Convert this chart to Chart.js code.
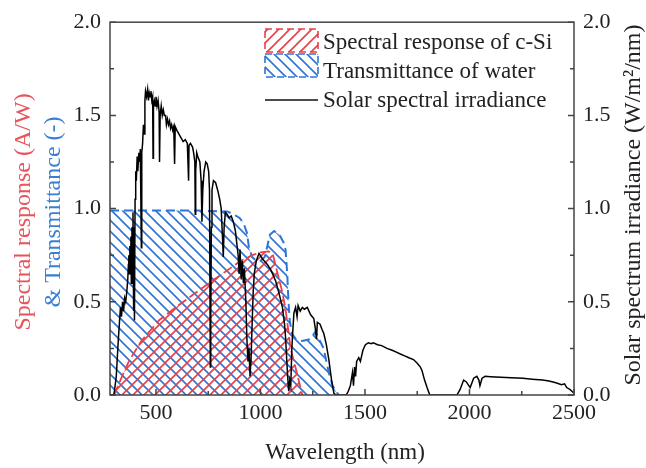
<!DOCTYPE html>
<html>
<head>
<meta charset="utf-8">
<script src="https://cdn.jsdelivr.net/npm/chart.js@4.4.1/dist/chart.umd.min.js"></script>
<style>
  html, body { margin: 0; padding: 0; background: #fff; }
  #wrap { width: 646px; height: 468px; position: relative; }
</style>
</head>
<body>
<div id="wrap"><canvas id="chart"></canvas></div>
<script>
// solar spectral irradiance (W/m2/nm)
const solarWl = [280, 295, 300, 310, 320, 330, 335, 340, 345, 350, 355, 360, 365, 368, 370, 372, 375, 378, 380, 382,
  385, 388, 390, 393, 395, 397, 400, 403, 406, 410, 413, 418, 422, 425, 430, 432, 436, 440, 443, 447,
  450, 455, 460, 464, 468, 472, 476, 480, 484, 486, 488, 492, 496, 500, 505, 510, 515, 517, 520, 525,
  530, 535, 540, 546, 550, 555, 560, 565, 570, 575, 580, 585, 589, 592, 600, 610, 620, 630, 640, 650,
  656, 658, 665, 675, 680, 686, 688, 690, 695, 700, 710, 716, 720, 724, 730, 738, 745, 752, 756, 760,
  762, 765, 768, 775, 785, 795, 805, 812, 818, 822, 826, 832, 840, 850, 860, 870, 880, 888, 893, 898,
  902, 908, 913, 918, 923, 930, 935, 940, 945, 950, 955, 960, 965, 970, 980, 993, 1010, 1033, 1050, 1073,
  1090, 1105, 1115, 1120, 1125, 1130, 1135, 1140, 1145, 1150, 1155, 1160, 1168, 1175, 1180, 1190, 1200, 1210, 1224, 1240,
  1255, 1262, 1268, 1272, 1285, 1295, 1303, 1315, 1327, 1340, 1351, 1360, 1410, 1420, 1430, 1440, 1445, 1450, 1455, 1460,
  1470, 1478, 1490, 1502, 1516, 1530, 1540, 1560, 1580, 1605, 1630, 1650, 1669, 1690, 1710, 1732, 1750, 1765, 1773, 1785,
  1797, 1810, 1940, 1955, 1972, 1985, 2003, 2020, 2035, 2045, 2050, 2060, 2075, 2100, 2150, 2200, 2256, 2300, 2350, 2380,
  2400, 2417, 2440, 2455, 2465, 2480, 2490, 2500];
const solarIrr = [0, 0, 0.01, 0.1, 0.3, 0.47, 0.42, 0.5, 0.45, 0.52, 0.5, 0.55, 0.62, 0.7, 0.75, 0.65, 0.8, 0.7, 0.85, 0.6,
  0.9, 0.75, 0.98, 0.45, 0.9, 0.4, 1.05, 1.2, 1.15, 1.28, 1.2, 1.3, 1.25, 1.32, 0.79, 1.3, 1.35, 1.45, 1.4, 1.58,
  1.63, 1.6, 1.64, 1.58, 1.62, 1.6, 1.63, 1.58, 1.6, 1.27, 1.56, 1.58, 1.55, 1.6, 1.55, 1.58, 1.52, 1.25, 1.5, 1.55,
  1.5, 1.53, 1.5, 1.5, 1.45, 1.48, 1.45, 1.47, 1.43, 1.45, 1.42, 1.44, 1.24, 1.44, 1.42, 1.4, 1.38, 1.36, 1.37, 1.35,
  1.15, 1.34, 1.35, 1.33, 1.3, 1.25, 0.97, 1.2, 1.3, 1.28, 1.25, 1.15, 0.93, 1.1, 1.2, 1.25, 1.24, 1.2, 1.1, 0.15,
  0.4, 0.9, 1.1, 1.15, 1.14, 1.1, 1.05, 1.0, 0.85, 0.74, 0.9, 0.98, 0.97, 0.95, 0.96, 0.93, 0.88, 0.8, 0.75, 0.65,
  0.78, 0.62, 0.72, 0.6, 0.68, 0.5, 0.3, 0.18, 0.25, 0.1, 0.2, 0.38, 0.55, 0.65, 0.72, 0.76, 0.73, 0.7, 0.67, 0.61,
  0.54, 0.47, 0.38, 0.31, 0.2, 0.1, 0.02, 0.08, 0.05, 0.25, 0.35, 0.44, 0.47, 0.42, 0.48, 0.45, 0.47, 0.46, 0.47, 0.43,
  0.41, 0.36, 0.3, 0.39, 0.38, 0.35, 0.33, 0.27, 0.19, 0.08, 0.01, 0, 0, 0.02, 0.05, 0.12, 0.05, 0.15, 0.1, 0.18,
  0.2, 0.18, 0.24, 0.27, 0.28, 0.275, 0.28, 0.27, 0.265, 0.25, 0.24, 0.23, 0.22, 0.21, 0.2, 0.19, 0.17, 0.15, 0.13, 0.08,
  0.04, 0, 0, 0.03, 0.08, 0.07, 0.04, 0.09, 0.1, 0.08, 0.05, 0.09, 0.1, 0.098, 0.095, 0.093, 0.09, 0.085, 0.08, 0.075,
  0.07, 0.064, 0.055, 0.06, 0.04, 0.03, 0.02, 0.01];

// spectral response of c-Si (A/W)
const respWl = [300, 330, 370, 430, 514, 594, 680, 753, 830, 906, 960, 1000, 1040, 1060, 1080, 1105, 1120, 1144, 1176, 1200];
const respVal = [0, 0.08, 0.18, 0.29, 0.40, 0.47, 0.54, 0.60, 0.66, 0.72, 0.75, 0.765, 0.77, 0.75, 0.66, 0.55, 0.46, 0.25, 0.11, 0];

// transmittance of water (-)
const waterWl = [280, 300, 400, 500, 600, 700, 800, 840, 870, 900, 920, 935, 945, 960, 980, 1000, 1020, 1033, 1045, 1065,
  1090, 1110, 1120, 1128, 1134, 1140, 1150, 1170, 1200, 1240, 1263, 1280, 1302, 1327, 1345, 1360, 1375];
const waterVal = [0.99, 0.99, 0.99, 0.99, 0.99, 0.99, 0.985, 0.985, 0.97, 0.95, 0.92, 0.87, 0.79, 0.74, 0.72, 0.72, 0.74, 0.80, 0.86, 0.88,
  0.86, 0.82, 0.78, 0.65, 0.50, 0.40, 0.33, 0.30, 0.29, 0.30, 0.34, 0.30, 0.25, 0.12, 0.05, 0.02, 0];

const xMajor = [500, 1000, 1500, 2000, 2500];
const xMinor = [750, 1250, 1750, 2250];
const yMajor = [0, 0.5, 1.0, 1.5, 2.0];
const yMinor = [0.25, 0.75, 1.25, 1.75];

const RED = '#e6414b';
const BLUE = '#2f74d4';
const SERIF = '"Liberation Serif", "Times New Roman", serif';

const pts = (xs, ys) => xs.map((x, i) => ({ x: x, y: ys[i] }));

function hatch(color, dir) {
  const s = 11;
  const c = document.createElement('canvas');
  c.width = s; c.height = s;
  const g = c.getContext('2d');
  g.strokeStyle = color;
  g.lineWidth = 1.6;
  g.beginPath();
  if (dir > 0) {
    g.moveTo(-1, s + 1); g.lineTo(s + 1, -1);
    g.moveTo(-1, 1); g.lineTo(1, -1);
    g.moveTo(s - 1, s + 1); g.lineTo(s + 1, s - 1);
  } else {
    g.moveTo(-1, -1); g.lineTo(s + 1, s + 1);
    g.moveTo(s - 1, -1); g.lineTo(s + 1, 1);
    g.moveTo(-1, s - 1); g.lineTo(1, s + 1);
  }
  g.stroke();
  return g.createPattern(c, 'repeat');
}

const redHatch = hatch(RED, 1);
const blueHatch = hatch(BLUE, -1);

// frame, inward ticks, axis titles and legend
const decor = {
  id: 'decor',
  afterDraw(chart) {
    const ctx = chart.ctx;
    const a = chart.chartArea;
    const xs = chart.scales.x, yl = chart.scales.y, yr = chart.scales.y2;
    ctx.save();
    ctx.strokeStyle = '#444';
    ctx.lineWidth = 1.5;
    ctx.strokeRect(a.left, a.top, a.right - a.left, a.bottom - a.top);

    ctx.beginPath();
    const tick = (v, len) => {
      const py = yl.getPixelForValue(v);
      ctx.moveTo(a.left, py); ctx.lineTo(a.left + len, py);
      const pr = yr.getPixelForValue(v);
      ctx.moveTo(a.right, pr); ctx.lineTo(a.right - len, pr);
    };
    yMajor.forEach(v => tick(v, 6));
    yMinor.forEach(v => tick(v, 4));
    const xt = (v, len) => {
      const px = xs.getPixelForValue(v);
      ctx.moveTo(px, a.bottom); ctx.lineTo(px, a.bottom - len);
    };
    xMajor.forEach(v => xt(v, 6));
    xMinor.forEach(v => xt(v, 4));
    ctx.stroke();

    // axis titles
    ctx.textAlign = 'center';
    ctx.textBaseline = 'middle';
    ctx.font = '24px ' + SERIF;
    ctx.save();
    ctx.translate(24, 212);
    ctx.rotate(-Math.PI / 2);
    ctx.fillStyle = '#e9545c';
    ctx.fillText('Spectral response (A/W)', 0, 0);
    ctx.restore();
    ctx.save();
    ctx.translate(54, 212);
    ctx.rotate(-Math.PI / 2);
    ctx.fillStyle = '#3a7fd4';
    ctx.fillText('& Transmittance (-)', 0, 0);
    ctx.restore();
    ctx.save();
    ctx.translate(634, 205);
    ctx.rotate(-Math.PI / 2);
    ctx.fillStyle = '#222';
    ctx.fillText('Solar spectrum irradiance (W/m\u00b2/nm)', 0, 0);
    ctx.restore();
    ctx.fillStyle = '#222';
    ctx.font = '23px ' + SERIF;
    ctx.fillText('Wavelength (nm)', 345, 453);

    // legend
    const bx = 265, bw = 53;
    ctx.lineWidth = 1.6;
    ctx.setLineDash([7, 4]);
    ctx.fillStyle = redHatch;
    ctx.fillRect(bx, 29, bw, 23);
    ctx.strokeStyle = RED;
    ctx.strokeRect(bx, 29, bw, 23);
    ctx.fillStyle = blueHatch;
    ctx.fillRect(bx, 54, bw, 23);
    ctx.strokeStyle = BLUE;
    ctx.strokeRect(bx, 54, bw, 23);
    ctx.setLineDash([]);
    ctx.strokeStyle = '#111';
    ctx.beginPath();
    ctx.moveTo(bx, 100); ctx.lineTo(bx + bw, 100);
    ctx.stroke();
    ctx.fillStyle = '#222';
    ctx.textAlign = 'left';
    ctx.textBaseline = 'alphabetic';
    ctx.font = '23px ' + SERIF;
    ctx.fillText('Spectral response of c-Si', 323, 49);
    ctx.fillText('Transmittance of water', 323, 78);
    ctx.fillText('Solar spectral irradiance', 323, 107);
    ctx.restore();
  }
};

const yTicks = {
  min: 0, max: 2,
  ticks: { stepSize: 0.5, padding: 9, color: '#222', font: { family: SERIF, size: 22 }, callback: v => v.toFixed(1) },
  grid: { display: false, drawTicks: false },
  border: { display: false }
};

new Chart(document.getElementById('chart'), {
  type: 'line',
  data: {
    datasets: [
      {
        label: 'Solar spectral irradiance',
        data: pts(solarWl, solarIrr),
        yAxisID: 'y2',
        borderColor: '#000',
        borderWidth: 1.5,
        pointRadius: 0,
        fill: false
      },
      {
        label: 'Spectral response of c-Si',
        data: pts(respWl, respVal),
        yAxisID: 'y',
        borderColor: RED,
        borderWidth: 1.8,
        borderDash: [10, 4],
        backgroundColor: redHatch,
        pointRadius: 0,
        fill: 'origin'
      },
      {
        label: 'Transmittance of water',
        data: pts(waterWl, waterVal),
        yAxisID: 'y',
        borderColor: BLUE,
        borderWidth: 2,
        borderDash: [9, 5],
        backgroundColor: blueHatch,
        pointRadius: 0,
        fill: 'origin'
      }
    ]
  },
  options: {
    responsive: true,
    maintainAspectRatio: false,
    animation: false,
    layout: { padding: { top: 20, left: 0, right: 0, bottom: 0 } },
    plugins: { legend: { display: false }, tooltip: { enabled: false } },
    scales: {
      x: {
        type: 'linear',
        min: 280, max: 2500,
        afterBuildTicks: s => { s.ticks = xMajor.map(v => ({ value: v })); },
        afterFit: s => { s.height = 73; },
        ticks: { autoSkip: false, maxRotation: 0, padding: 5, color: '#222', font: { family: SERIF, size: 22 }, callback: v => String(v) },
        grid: { display: false, drawTicks: false },
        border: { display: false }
      },
      y: Object.assign({ position: 'left', afterFit: s => { s.width = 110; } }, yTicks),
      y2: Object.assign({ position: 'right', afterFit: s => { s.width = 72; } }, yTicks)
    }
  },
  plugins: [decor]
});
</script>
</body>
</html>
